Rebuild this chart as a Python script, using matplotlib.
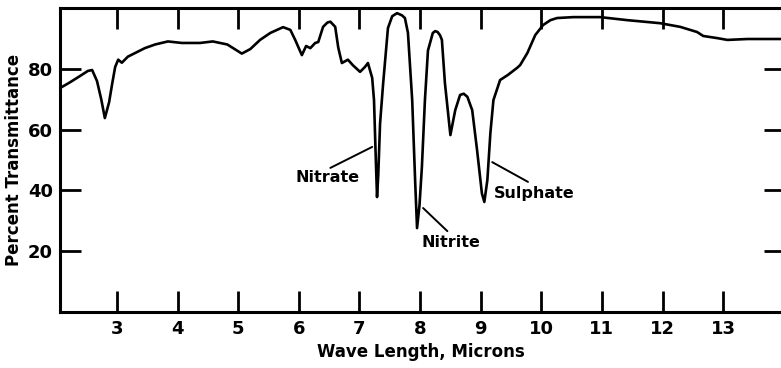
import matplotlib
matplotlib.use("Agg")
import matplotlib.pyplot as plt
import numpy as np

# wave length (microns) and percent transmittance
wave = [2.09, 2.22, 2.38, 2.52, 2.59, 2.67, 2.74, 2.80, 2.87, 2.92, 2.97, 3.02,
        3.08, 3.18, 3.30, 3.46, 3.63, 3.84, 4.07, 4.37, 4.58, 4.82, 4.98, 5.06,
        5.20, 5.36, 5.53, 5.74, 5.86, 5.94, 6.05, 6.12, 6.19, 6.27, 6.32, 6.40,
        6.47, 6.52, 6.60, 6.65, 6.71, 6.81, 6.89, 7.01, 7.09, 7.14, 7.21, 7.24,
        7.27, 7.29, 7.31, 7.34, 7.39, 7.47, 7.54, 7.62, 7.70, 7.75, 7.80, 7.87,
        7.92, 7.95, 7.99, 8.03, 8.08, 8.13, 8.21, 8.25, 8.29, 8.33, 8.36, 8.41,
        8.50, 8.58, 8.66, 8.72, 8.78, 8.86, 8.94, 9.02, 9.06, 9.11, 9.16, 9.21,
        9.32, 9.45, 9.60, 9.65, 9.77, 9.90, 10.03, 10.15, 10.26, 10.53, 10.97,
        11.42, 11.96, 12.29, 12.57, 12.67, 12.90, 13.07, 13.40, 13.94]
trans = [74.0, 75.5, 77.5, 79.3, 79.6, 76.0, 70.0, 63.8, 69.0, 75.0, 80.6, 83.0,
         82.0, 84.0, 85.2, 86.8, 88.0, 89.0, 88.5, 88.5, 89.0, 88.0, 86.0, 85.0,
         86.5, 89.5, 91.8, 93.7, 92.8, 89.5, 84.5, 87.5, 86.8, 88.5, 88.8, 93.8,
         95.2, 95.5, 93.8, 87.0, 81.9, 83.0, 81.2, 79.0, 80.6, 81.9, 77.0, 69.7,
         50.0, 37.8, 45.0, 62.0, 75.0, 93.4, 97.3, 98.3, 97.6, 96.7, 91.8, 69.7,
         42.4, 27.6, 35.0, 47.7, 69.7, 86.0, 91.8, 92.4, 92.1, 91.0, 89.5, 75.3,
         58.2, 66.4, 71.4, 71.8, 70.8, 66.4, 53.3, 39.0, 36.2, 43.4, 58.9, 69.7,
         76.3, 78.0, 80.3, 81.2, 85.2, 91.1, 94.4, 96.0, 96.7, 97.0, 97.0,
         96.0, 95.0, 93.8, 92.1, 90.8, 90.1, 89.5, 89.8, 89.8]

x_ticks = [3, 4, 5, 6, 7, 8, 9, 10, 11, 12, 13]
y_ticks = [20, 40, 60, 80]

# labels: text, text position, leader start, leader end (on the curve)
labels = ["Nitrate", "Nitrite", "Sulphate"]
label_pos = [(6.47, 44.4), (8.51, 23.0), (9.88, 39.1)]
leader_from = [(6.52, 47.4), (8.45, 26.6), (9.78, 42.8)]
leader_to = [(7.21, 54.3), (8.05, 34.2), (9.19, 49.3)]

plt.rcParams['font.family'] = ['DejaVu Sans']
plt.rcParams['font.weight'] = 'bold'

fig = plt.figure(figsize=(7.81, 3.68), dpi=100)
ax = fig.add_axes([60 / 781, 56 / 368, 725 / 781, 304 / 368])

ax.plot(wave, trans, color='black', lw=1.9, solid_joinstyle='round')

ax.set_xlim(2.06, 14.02)
ax.set_ylim(0, 100)
ax.set_xticks(x_ticks)
ax.set_yticks(y_ticks)

for s in ['left', 'top', 'bottom']:
    ax.spines[s].set_linewidth(2.2)
ax.spines['right'].set_visible(False)

ax.tick_params(axis='both', direction='in', length=15, width=2.0,
               labelsize=13, top=True, right=True)
ax.tick_params(axis='x', pad=6)
ax.tick_params(axis='y', pad=5)
for lab in ax.get_xticklabels() + ax.get_yticklabels():
    lab.set_fontweight('bold')

ax.set_xlabel("Wave Length, Microns", fontsize=12, fontweight='bold')
ax.set_ylabel("Percent Transmittance", fontsize=12, fontweight='bold')
ax.xaxis.set_label_coords(0.498, -0.103)
ax.yaxis.set_label_coords(-0.051, 0.5)

for txt, pos, p0, p1 in zip(labels, label_pos, leader_from, leader_to):
    ax.annotate("", xy=p1, xytext=p0,
                arrowprops=dict(arrowstyle='-', lw=1.4, color='black',
                                shrinkA=0, shrinkB=0))
    ax.text(pos[0], pos[1], txt, ha='center', va='center',
            fontsize=11.5, fontweight='bold')

fig.savefig("out.png", dpi=100)
